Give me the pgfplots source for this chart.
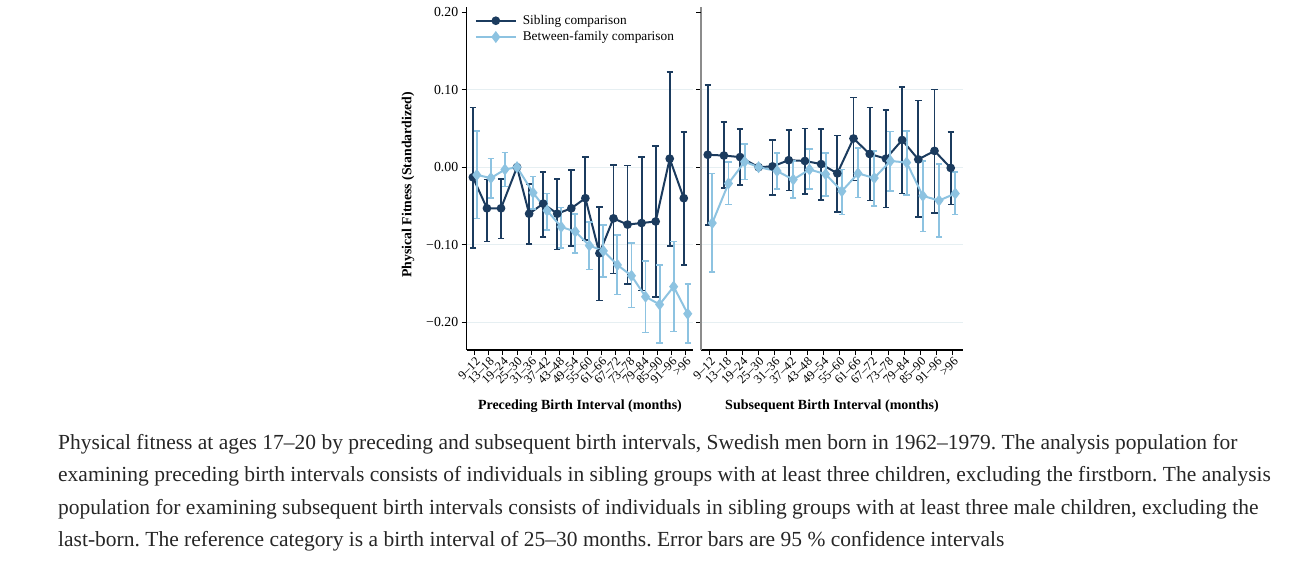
\documentclass[border=0pt]{standalone}
\usepackage{fontspec}
\setmainfont{Liberation Serif}
\usepackage{pgfplots}
\pgfplotsset{compat=1.18}
\usepackage{pgfplotstable}
\frenchspacing

\definecolor{sib}{HTML}{1B3B5E}
\definecolor{bfc}{HTML}{8DC3E1}
\definecolor{gridc}{HTML}{E6EFF2}
\definecolor{captc}{HTML}{262626}

% x = category position (sibling shifted -0.14, between-family +0.14), y = estimate, lo/hi = 95% CI
\pgfplotstableread{
x y lo hi
-0.14 -0.013 -0.104 0.077
0.86 -0.053 -0.096 -0.016
1.86 -0.053 -0.092 -0.015
3 0 0 0
3.86 -0.060 -0.099 -0.022
4.86 -0.047 -0.090 -0.006
5.86 -0.060 -0.106 -0.015
6.86 -0.053 -0.102 -0.004
7.86 -0.040 -0.094 0.013
8.86 -0.111 -0.172 -0.051
9.86 -0.066 -0.137 0.003
10.86 -0.074 -0.151 0.002
11.86 -0.072 -0.159 0.013
12.86 -0.070 -0.167 0.027
13.86 0.011 -0.102 0.123
14.86 -0.040 -0.126 0.045
}\precsib
\pgfplotstableread{
x y lo hi
0.14 -0.010 -0.066 0.047
1.14 -0.014 -0.040 0.011
2.14 -0.003 -0.025 0.019
3 0 0 0
4.14 -0.033 -0.054 -0.012
5.14 -0.056 -0.081 -0.034
6.14 -0.077 -0.104 -0.052
7.14 -0.083 -0.111 -0.060
8.14 -0.101 -0.132 -0.071
9.14 -0.108 -0.142 -0.075
10.14 -0.126 -0.164 -0.087
11.14 -0.140 -0.181 -0.098
12.14 -0.167 -0.213 -0.121
13.14 -0.177 -0.227 -0.126
14.14 -0.154 -0.212 -0.096
15.14 -0.189 -0.227 -0.151
}\precbf
\pgfplotstableread{
x y lo hi
-0.14 0.016 -0.075 0.106
0.86 0.015 -0.027 0.058
1.86 0.013 -0.023 0.049
3 0 0 0
3.86 0.001 -0.036 0.035
4.86 0.009 -0.030 0.048
5.86 0.008 -0.035 0.050
6.86 0.004 -0.042 0.049
7.86 -0.008 -0.058 0.041
8.86 0.037 -0.017 0.090
9.86 0.017 -0.043 0.077
10.86 0.011 -0.052 0.074
11.86 0.035 -0.034 0.103
12.86 0.010 -0.064 0.086
13.86 0.021 -0.059 0.100
14.86 -0.001 -0.048 0.045
}\subsib
\pgfplotstableread{
x y lo hi
0.14 -0.072 -0.135 -0.008
1.14 -0.021 -0.048 0.007
2.14 0.007 -0.016 0.030
3 0 0 0
4.14 -0.005 -0.028 0.018
5.14 -0.016 -0.040 0.008
6.14 -0.003 -0.028 0.023
7.14 -0.009 -0.037 0.018
8.14 -0.031 -0.061 -0.003
9.14 -0.008 -0.039 0.025
10.14 -0.014 -0.050 0.021
11.14 0.008 -0.031 0.046
12.14 0.006 -0.036 0.047
13.14 -0.037 -0.083 0.008
14.14 -0.043 -0.090 0.004
15.14 -0.034 -0.061 -0.006
}\subbf

\pgfplotsset{
  panel/.style={
    scale only axis, height=343pt,
    ymin=-0.2357, ymax=0.2065,
    axis x line*=bottom, axis y line*=left,
    axis line style={line width=1.5pt},
    xtick={0,...,15},
    xticklabels={9–12,13–18,19–24,25–30,31–36,37–42,43–48,49–54,55–60,61–66,67–72,73–78,79–84,85–90,91–96,>96},
    x tick label style={rotate=45, anchor=north east, inner sep=1pt,
      font=\fontsize{12.5}{14}\selectfont},
    ytick={-0.2,-0.1,0,0.1},
    extra y ticks={0.2}, extra y tick style={grid=none},
    ymajorgrids, grid style={gridc, line width=1.2pt},
    tick align=outside, major tick length=5pt,
    tick style={black, line width=1pt},
    y tick label style={font=\fontsize{13.8}{15}\selectfont},
    xlabel style={font=\bfseries\fontsize{14}{16}\selectfont,
      at={(axis description cs:0.5,-0.163)}, anchor=center},
  },
  ebars/.style={#1, only marks, mark=none, forget plot,
    skip coords between index={3}{4},
    error bars/.cd, y dir=both, y explicit,
    error bar style={#1, line width=1.9pt},
    error mark options={#1, rotate=90, mark size=3.2pt, line width=1.7pt}},
  sibline/.style={sib, line width=2pt, mark=*, mark size=3.3pt, mark options={solid}},
  bfline/.style={bfc, line width=2pt, mark=diamond*, mark size=4.4pt, mark options={solid}},
}

\begin{document}
\begin{tikzpicture}
\path[use as bounding box] (0pt,0pt) rectangle (1301pt,568pt);

\begin{axis}[panel, at={(466.7pt,218pt)}, anchor=south west, width=226.5pt,
  xmin=-0.58, xmax=15.53,
  yticklabels={−0.20,−0.10,0.00,0.10}, extra y tick labels={0.20},
  xlabel={Preceding Birth Interval (months)},
  ylabel={Physical Fitness (Standardized)},
  ylabel style={font=\bfseries\fontsize{13.8}{15}\selectfont,
    at={(axis description cs:-0.259,0.481)}, anchor=center},
  legend style={at={(axis description cs:0.035,0.982)}, anchor=north west,
    draw=none, fill=none, font=\fontsize{13.3}{15}\selectfont, row sep=1.5pt,
    inner sep=0pt, nodes={inner xsep=6pt}},
  legend cell align=left,
  legend image code/.code={\draw[mark repeat=2,mark phase=2,#1] plot coordinates {(0pt,0pt) (20pt,0pt) (40pt,0pt)};},
]
\addplot[ebars=sib] table[x=x, y=y, y error plus expr=\thisrow{hi}-\thisrow{y}, y error minus expr=\thisrow{y}-\thisrow{lo}] {\precsib};
\addplot[sibline] table[x=x,y=y] {\precsib};
\addplot[ebars=bfc] table[x=x, y=y, y error plus expr=\thisrow{hi}-\thisrow{y}, y error minus expr=\thisrow{y}-\thisrow{lo}] {\precbf};
\addplot[bfline] table[x=x,y=y] {\precbf};
\legend{Sibling comparison, Between-family comparison}
\end{axis}

\begin{axis}[panel, at={(701pt,218pt)}, anchor=south west, width=262pt,
  xmin=-0.555, xmax=15.62,
  yticklabels={}, extra y tick labels={},
  y axis line style={color=gray!90, line width=1.6pt},
  xlabel={Subsequent Birth Interval (months)},
]
\addplot[ebars=sib] table[x=x, y=y, y error plus expr=\thisrow{hi}-\thisrow{y}, y error minus expr=\thisrow{y}-\thisrow{lo}] {\subsib};
\addplot[sibline] table[x=x,y=y] {\subsib};
\addplot[ebars=bfc] table[x=x, y=y, y error plus expr=\thisrow{hi}-\thisrow{y}, y error minus expr=\thisrow{y}-\thisrow{lo}] {\subbf};
\addplot[bfline] table[x=x,y=y] {\subbf};
\end{axis}

\begin{scope}[every node/.style={anchor=base west, inner sep=0pt, text=captc,
    font=\fontsize{21.5}{25}\selectfont}]
\node at (58pt,119pt) {Physical fitness at ages 17–20 by preceding and subsequent birth intervals, Swedish men born in 1962–1979. The analysis population for};
\node at (58pt,86.5pt) {examining preceding birth intervals consists of individuals in sibling groups with at least three children, excluding the firstborn. The analysis};
\node at (58pt,54pt) {population for examining subsequent birth intervals consists of individuals in sibling groups with at least three male children, excluding the};
\node at (58pt,21.5pt) {last-born. The reference category is a birth interval of 25–30 months. Error bars are 95 \% confidence intervals};
\end{scope}
\end{tikzpicture}
\end{document}
